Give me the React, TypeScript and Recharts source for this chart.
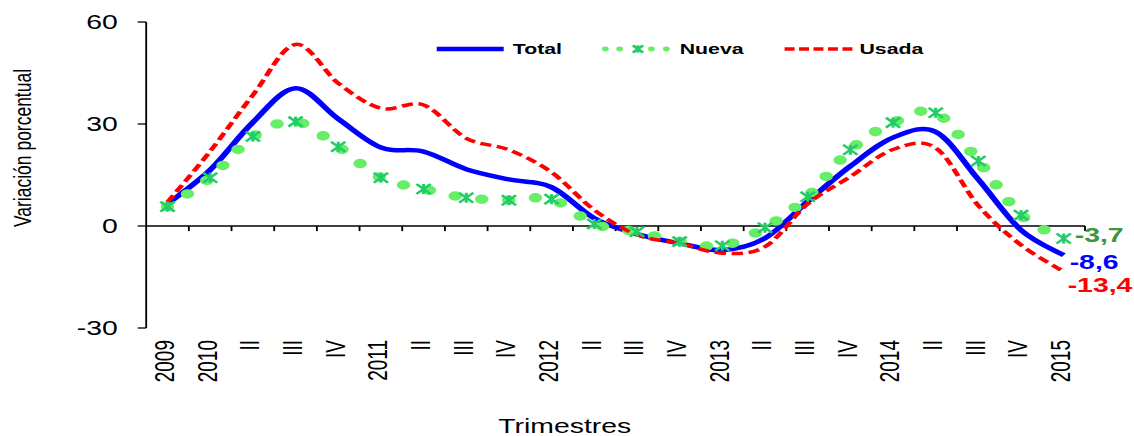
import React from 'react';
import { LineChart, Line, XAxis, YAxis, ReferenceLine, LabelList } from 'recharts';

// Quarterly series, 2009 IV to 2015 I
const quarters = ['2009', '2010', 'II', 'III', 'IV', '2011', 'II', 'III', 'IV', '2012', 'II', 'III', 'IV', '2013', 'II', 'III', 'IV', '2014', 'II', 'III', 'IV', '2015'];
const total = [6.5, 16.5, 30.5, 40.5, 31.5, 23.1, 21.9, 16.7, 13.7, 11.4, 2.3, -2.4, -5.1, -7.1, -3.6, 7.2, 17.6, 26.0, 27.7, 13.7, -1.2, -8.6];
const nueva = [5.7, 14.2, 26.3, 30.7, 23.3, 14.2, 10.9, 8.3, 7.6, 7.9, 0.6, -1.7, -4.6, -5.8, -0.5, 8.6, 22.4, 30.4, 33.3, 19.1, 3.2, -3.7];
const usada = [7.0, 22.0, 38.5, 53.4, 42.0, 34.6, 35.6, 25.8, 22.4, 15.8, 4.7, -2.6, -5.1, -8.0, -6.1, 6.5, 14.5, 22.5, 23.0, 6.0, -5.6, -13.4];
const yTicks = [-30, 0, 30, 60];

const data = quarters.map((q, i) => ({ idx: i, q, total: total[i], nueva: nueva[i], usada: usada[i] }));
const xTicks = quarters.map((_, i) => i);
const boundaries = quarters.map((_, i) => i + 0.5);

const W = 799;
const H = 436;
const S = 1134 / W; // horizontal stretch of the whole drawing
const FONT = '"Liberation Sans", Arial, sans-serif';

// Catmull-Rom style smoothing, as used by spreadsheet "smoothed line" charts
const smoothCurve = (context: any) => {
  let pts: [number, number][] = [];
  return {
    areaStart() {},
    areaEnd() {},
    lineStart() {
      pts = [];
    },
    lineEnd() {
      const n = pts.length;
      if (!n) return;
      context.moveTo(pts[0][0], pts[0][1]);
      for (let i = 0; i < n - 1; i++) {
        const p0 = pts[i - 1] || pts[i];
        const p1 = pts[i];
        const p2 = pts[i + 1];
        const p3 = pts[i + 2] || p2;
        context.bezierCurveTo(
          p1[0] + (p2[0] - p0[0]) / 6,
          p1[1] + (p2[1] - p0[1]) / 6,
          p2[0] - (p3[0] - p1[0]) / 6,
          p2[1] - (p3[1] - p1[1]) / 6,
          p2[0],
          p2[1]
        );
      }
    },
    point(x: number, y: number) {
      pts.push([x, y]);
    },
  };
};

const Asterisk = ({ cx, cy, r, color }: { cx: number; cy: number; r: number; color: string }) => (
  <g stroke={color} strokeWidth={2.2} strokeDasharray="none" fill="none">
    <line x1={cx - r} y1={cy - r} x2={cx + r} y2={cy + r} />
    <line x1={cx - r} y1={cy + r} x2={cx + r} y2={cy - r} />
    <line x1={cx} y1={cy - r} x2={cx} y2={cy + r} />
  </g>
);

const QuarterTick = (props: any) => {
  const { x, y, payload } = props;
  const label = quarters[payload.value];
  return (
    <text
      x={x - 2}
      y={y}
      transform={`rotate(-90, ${x - 2}, ${y})`}
      textAnchor="end"
      dominantBaseline="central"
      fontSize={19}
      fontFamily={FONT}
      fill="#000"
    >
      {label}
    </text>
  );
};

const endLabel = (color: string, dx: number, dy: number) => (props: any) => {
  const { x, y, index, value } = props;
  if (index !== quarters.length - 1) return null;
  return (
    <text
      x={x + dx}
      y={y + dy}
      dominantBaseline="central"
      fontSize={20}
      fontWeight="bold"
      fontFamily={FONT}
      fill={color}
    >
      {String(value).replace('.', ',')}
    </text>
  );
};

const Overlay = () => (
  <svg
    width={W}
    height={H}
    style={{ position: 'absolute', left: 0, top: 0, pointerEvents: 'none' }}
    fontFamily={FONT}
  >
    {/* legend */}
    <line x1={307.7} y1={49} x2={354.9} y2={49} stroke="#0000FF" strokeWidth={4.5} />
    <text x={361.3} y={54.4} fontSize={15} fontWeight="bold" fill="#000">Total</text>
    {[426.5, 436.6, 459, 469.5].map((cx) => (
      <circle key={cx} cx={cx} cy={49} r={2.4} fill="#66EE66" />
    ))}
    <Asterisk cx={449.5} cy={49} r={3.6} color="#22CC66" />
    <text x={478.9} y={54.4} fontSize={15} fontWeight="bold" fill="#000">Nueva</text>
    <line x1={552.8} y1={49} x2={600.7} y2={49} stroke="#FF0000" strokeWidth={3.5} strokeDasharray="7 3.2" />
    <text x={605.6} y={54.4} fontSize={15} fontWeight="bold" fill="#000">Usada</text>
    {/* axis titles */}
    <text
      x={21.7}
      y={148}
      transform="rotate(-90, 21.7, 148)"
      textAnchor="middle"
      fontSize={17.5}
      fill="#000"
    >
      Variación porcentual
    </text>
    <text x={397.9} y={433} textAnchor="middle" fontSize={20} fill="#000">Trimestres</text>
  </svg>
);

export default function App() {
  return (
    <div
      style={{
        position: 'absolute',
        left: 0,
        top: 0,
        width: W,
        height: H,
        transform: `scaleX(${S})`,
        transformOrigin: '0 0',
        background: '#fff',
      }}
    >
      <LineChart width={W} height={H} data={data} margin={{ top: 22, right: 34.5, left: 0, bottom: 0 }}>
        <XAxis
          type="number"
          dataKey="idx"
          domain={[-0.5, 21.5]}
          ticks={xTicks}
          interval={0}
          axisLine={false}
          tickLine={false}
          tickSize={0}
          tickMargin={12}
          height={108}
          tick={<QuarterTick />}
        />
        <YAxis
          width={103}
          domain={[-30, 60]}
          ticks={yTicks}
          interval={0}
          tickSize={6}
          tickMargin={14}
          axisLine={{ stroke: '#000', strokeWidth: 1.3 }}
          tickLine={{ stroke: '#000', strokeWidth: 1.3 }}
          tick={{ fontSize: 20, fill: '#000', fontFamily: FONT }}
        />
        <ReferenceLine y={0} stroke="#000" strokeWidth={1.3} />
        {boundaries.map((b) => (
          <ReferenceLine
            key={b}
            segment={[
              { x: b, y: 0 },
              { x: b, y: -1.5 },
            ]}
            stroke="#000"
            strokeWidth={1.3}
          />
        ))}
        <Line
          dataKey="total"
          type={smoothCurve as any}
          stroke="#0000FF"
          strokeWidth={4.5}
          dot={false}
          isAnimationActive={false}
        >
          <LabelList dataKey="total" content={endLabel('#0000FF', 4.2, 6.5)} />
        </Line>
        <Line
          dataKey="nueva"
          type={smoothCurve as any}
          stroke="#66EE66"
          strokeWidth={9.5}
          strokeDasharray="0 19"
          strokeLinecap="round"
          dot={(p: any) => <Asterisk key={`n${p.index}`} cx={p.cx} cy={p.cy} r={5} color="#22CC66" />}
          isAnimationActive={false}
        >
          <LabelList dataKey="nueva" content={endLabel('#3C963C', 7.8, -3.6)} />
        </Line>
        <Line
          dataKey="usada"
          type={smoothCurve as any}
          stroke="#FF0000"
          strokeWidth={3.5}
          strokeDasharray="8 4"
          dot={false}
          isAnimationActive={false}
        >
          <LabelList dataKey="usada" content={endLabel('#FF0000', 2.8, 13.4)} />
        </Line>
      </LineChart>
      <Overlay />
    </div>
  );
}
